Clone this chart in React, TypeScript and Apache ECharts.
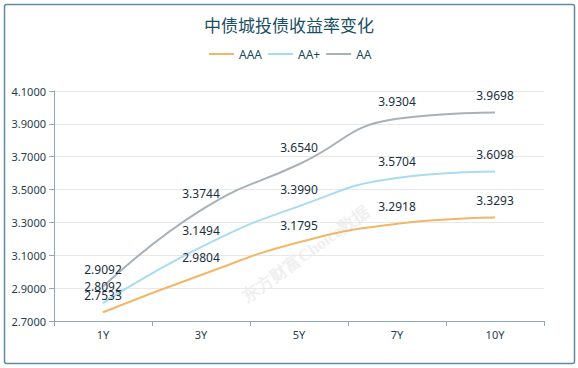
import React, { useEffect, useRef } from "react";
import * as echarts from "echarts";

const categories = ["1Y", "3Y", "5Y", "7Y", "10Y"];
const aaa = [2.7533, 2.9804, 3.1795, 3.2918, 3.3293];
const aaPlus = [2.8092, 3.1494, 3.399, 3.5704, 3.6098];
const aa = [2.9092, 3.3744, 3.654, 3.9304, 3.9698];
const seriesNames = ["AAA", "AA+", "AA"];
const colors = ["#f1b66a", "#a9dcf0", "#a7b1b8"];

export default function App() {
  const ref = useRef<HTMLDivElement>(null);
  useEffect(() => {
    if (!ref.current) return;
    const chart = echarts.init(ref.current, undefined, { renderer: "svg" });
    const values = [aaa, aaPlus, aa];
    chart.setOption({
      animation: false,
      title: {
        text: "中债城投债收益率变化",
        left: "center",
        top: 11,
        textStyle: { fontSize: 17, fontWeight: "normal", color: "#1b4f63", fontFamily: "Noto Sans CJK SC" },
      },
      legend: {
        top: 43,
        left: 204,
        icon: "rect",
        itemWidth: 25,
        itemHeight: 2,
        itemGap: 6,
        textStyle: { fontSize: 12, color: "#1a4a5a", fontFamily: "Noto Sans" },
        data: seriesNames,
      },
      graphic: [
        {
          type: "rect",
          shape: { x: 4.5, y: 4.5, width: 570, height: 359, r: 2 },
          style: { fill: "none", stroke: "#5e8d99", lineWidth: 1.5 },
          silent: true,
        },
        {
          type: "text",
          x: 306,
          y: 254,
          rotation: 0.62,
          style: {
            text: "东方财富Choice数据",
            fill: "rgba(200,200,200,0.3)",
            font: "bold 17px serif",
            align: "center",
            verticalAlign: "middle",
          },
          silent: true,
          z: -1,
        },
      ],
      grid: { left: 54, right: 34, top: 91, bottom: 47 },
      xAxis: {
        type: "category",
        data: categories,
        boundaryGap: true,
        axisLine: { lineStyle: { color: "#8fa9b2" } },
        axisTick: { show: true, length: 5, lineStyle: { color: "#8fa9b2" } },
        axisLabel: { color: "#1f3d4d", fontSize: 11, margin: 8, fontFamily: "Noto Sans" },
      },
      yAxis: {
        type: "value",
        min: 2.7,
        max: 4.1,
        interval: 0.2,
        axisLine: { show: true, lineStyle: { color: "#8fa9b2" } },
        axisTick: { show: true, length: 5, lineStyle: { color: "#8fa9b2" } },
        axisLabel: {
          color: "#1f3d4d",
          fontSize: 11,
          margin: 8,
          fontFamily: "Noto Sans",
          formatter: (v: number) => v.toFixed(4),
        },
        splitLine: { lineStyle: { color: "#e8e8e8" } },
      },
      series: seriesNames.map((name, i) => ({
        name,
        type: "line",
        smooth: true,
        showSymbol: true,
        symbol: "circle",
        symbolSize: 0.01,
        data: values[i],
        lineStyle: { color: colors[i], width: 2 },
        itemStyle: { color: colors[i] },
        label: {
          show: true,
          position: "top",
          distance: 11,
          color: "#1a2f3d",
          fontSize: 12,
          fontFamily: "Noto Sans",
          formatter: (p: any) => Number(p.value).toFixed(4),
        },
      })),
    });
    return () => chart.dispose();
  }, []);
  return (
    <div
      ref={ref}
      style={{ position: "absolute", left: 0, top: 0, width: 578, height: 368, background: "#fff" }}
    />
  );
}
